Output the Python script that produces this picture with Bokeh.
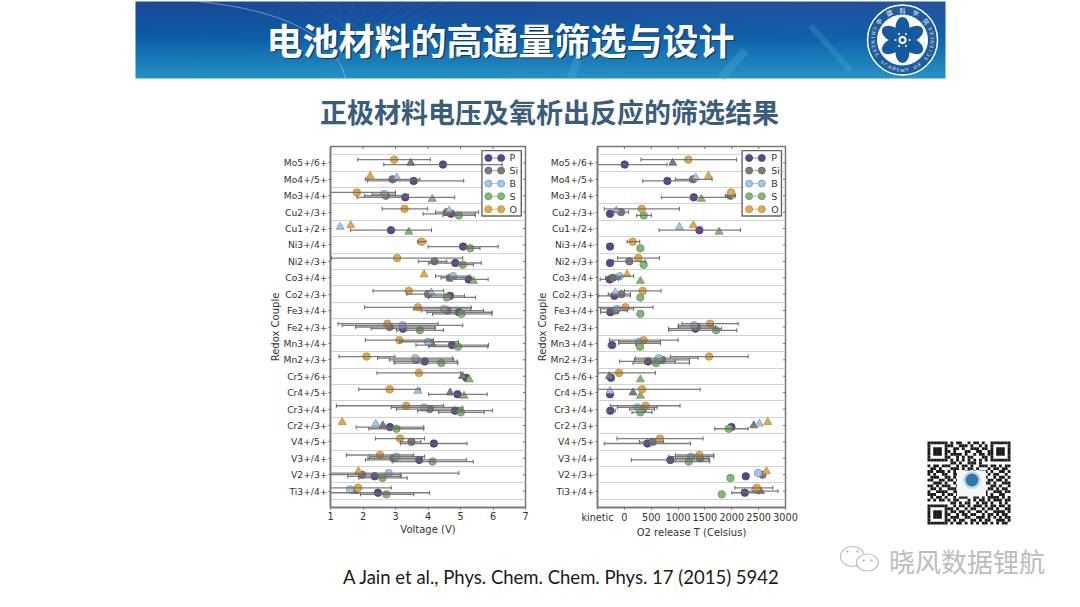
import numpy as np
from bokeh.plotting import figure
from bokeh.layouts import column, row
from bokeh.models import (ColumnDataSource, FixedTicker, Range1d, Spacer, TeeHead, Whisker)
from bokeh.core.properties import value
from bokeh.embed import file_html
from bokeh.resources import INLINE

couples = ["Mo5+/6+", "Mo4+/5+", "Mo3+/4+", "Cu2+/3+", "Cu1+/2+", "Ni3+/4+", "Ni2+/3+", "Co3+/4+", "Co2+/3+", "Fe3+/4+", "Fe2+/3+",
           "Mn3+/4+", "Mn2+/3+", "Cr5+/6+", "Cr4+/5+", "Cr3+/4+", "Cr2+/3+", "V4+/5+", "V3+/4+", "V2+/3+", "Ti3+/4+"]
N = None
series_names = ["P", "Si", "B", "S", "O"]

# ---- Voltage panel -----
v_P    = [4.46, 3.56, 3.30, 4.71, 2.86, 5.08, 4.84, 5.25, 4.68, 4.95, 3.23, 4.74, 3.90, 5.18, 4.91, 4.83, 2.83, 4.18, 3.73, 2.36, 2.46]
v_P_lo = [2.64, 2.13, 1.82, 3.85, 1.62, 4.00, 4.02, 4.58, 4.02, 3.97, 2.25, 3.63, 2.95, N, 4.02, 3.68, 1.79, 3.15, 2.07, 1.53, 1.00]
v_P_hi = [6.28, 5.10, 4.82, 5.45, 4.11, 6.16, 5.64, 5.85, 5.12, 5.97, 4.22, 5.86, 4.90, N, 5.82, 5.98, 3.87, 5.20, 5.18, 3.18, 4.05]
v_Si    = [3.47, 2.91, 2.70, 4.58, N, N, 4.20, 4.68, 4.00, 4.60, 2.82, 4.12, 3.63, 5.06, 4.68, 4.05, 2.61, 3.49, 2.94, 1.97, 1.74]
v_Si_lo = [N, 2.07, 2.04, 4.23, N, N, 3.70, 4.40, 3.35, 3.79, 1.77, N, 2.81, N, N, 3.03, N, 3.15, 2.15, 1.00, N]
v_Si_hi = [N, 3.75, 3.40, 5.56, N, N, 4.58, 5.20, 4.69, 5.71, 4.22, N, 4.79, N, N, 5.07, N, 3.78, 3.75, 3.15, N]
v_B    = [N, 3.04, 2.65, 4.65, 1.30, N, N, 4.77, 4.10, 4.49, 3.22, 4.00, 3.61, N, 3.69, 3.88, 2.39, N, 3.03, 2.79, 1.60]
v_B_lo = [N, N, 2.28, N, N, N, N, 4.23, N, 3.56, 1.36, 3.13, 2.45, N, N, 2.87, N, N, 2.20, 1.00, N]
v_B_hi = [N, N, 3.00, N, N, N, N, 5.30, N, 5.32, 5.07, 4.94, 4.76, N, N, 5.07, N, N, 3.89, 4.95, N]
v_S    = [N, N, 4.13, 4.95, 3.41, 5.30, 5.07, 5.40, 4.58, 5.03, 3.75, 4.92, 4.41, 5.27, 5.11, 5.01, 3.03, N, 4.14, 2.60, 2.72]
v_S_lo = [N, N, N, 4.46, N, 5.10, 4.90, N, 4.02, 4.14, 3.03, 4.02, 2.98, N, N, 4.33, 2.18, N, 2.90, 1.87, 1.92]
v_S_hi = [N, N, N, 5.46, N, 5.60, 5.40, N, 5.46, 5.97, 4.48, 5.84, 4.92, N, N, 5.73, 3.87, N, 5.39, 3.36, 3.56]
v_O    = [2.96, 2.22, 1.81, 3.28, 1.62, 3.80, 3.05, 3.88, 3.41, 3.69, 2.75, 3.12, 2.11, 3.72, 2.82, 3.33, 1.36, 3.14, 2.52, 1.86, 1.85]
v_O_lo = [1.84, N, 1.00, 2.59, N, 3.68, 1.03, N, 2.31, 2.05, 1.23, 2.07, 1.26, 2.43, 1.87, 1.18, N, 2.38, 1.49, N, 1.00]
v_O_hi = [4.07, N, 3.00, 3.99, N, 3.94, 5.07, N, 4.48, 5.33, 4.31, 4.17, 2.98, 5.01, 3.76, 4.48, N, 3.89, 3.56, N, 2.87]

# ---- O2 release panel -----
t_P    = [6, 801, 1292, -267, 1397, -267, -267, -273, -186, -261, 1323, -230, 441, -250, -267, -261, 1993, 428, 857, 2260, 2242]
t_P_lo = [-500, 342, 689, N, 646, N, N, -450, -478, -441, 826, -300, -87, N, N, -320, N, -373, 130, N, 2000]
t_P_hi = [795, 1279, 1975, N, 2161, N, N, -110, 112, -110, 1807, -160, 950, N, N, -170, N, 1230, 1584, N, 2500]
t_Si    = [900, 1279, 1975, -62, N, N, 93, -211, -56, -165, 1350, 270, 702, -279, 161, 350, 2409, 528, 1410, 2571, 2534]
t_Si_lo = [N, 950, 1880, -200, N, N, -200, -350, -300, -300, 1000, -100, 186, N, N, 100, N, 280, 950, N, 2190]
t_Si_hi = [N, 1633, 2070, 80, N, N, 390, -70, 112, 60, 1700, 671, 1210, N, N, 560, N, 730, 1570, N, 2860]
t_B    = [N, 1329, 1990, -149, 1025, N, N, -87, -168, -137, 1298, 279, 640, N, -267, 242, 2515, N, 1242, 2490, 2441]
t_B_lo = [N, N, N, N, N, N, N, -260, N, -441, 1010, -105, 205, N, N, -130, N, N, 826, N, N]
t_B_hi = [N, N, N, N, N, N, N, 174, N, 174, 1650, 671, 1373, N, N, 610, N, N, 1664, N, N]
t_S    = [N, N, 1435, 360, 1764, 298, 360, 298, 298, 298, 1708, 292, 590, 298, 298, 298, 1944, N, 1199, 1975, 1813]
t_S_lo = [N, N, N, 230, N, N, N, N, N, N, 826, N, 160, N, N, 142, 1683, N, 826, N, N]
t_S_hi = [N, N, N, 503, N, N, N, N, N, N, 2093, N, 1210, N, N, 516, 2304, N, 1590, N, N]
t_O    = [1192, 1565, 1987, 323, 1285, 155, 261, 50, 342, 19, 1596, 360, 1577, -99, 329, 397, 2670, 664, 1397, 2646, 2466]
t_O_lo = [310, N, N, -373, N, 50, -124, N, 0, -497, 1074, -279, 857, -500, -500, -261, N, -137, 950, N, 2056]
t_O_hi = [2087, N, N, 1025, N, 286, 652, N, 683, 534, 2118, 1000, 2304, 578, 1410, 1037, N, 1466, 1664, N, 2764]

# couples drawn as triangles, per panel (no spread reported)
v_tri = {"P": [], "Si": ["Mo5+/6+", "Mn3+/4+", "Cr5+/6+", "Cr4+/5+", "Cr2+/3+", "Ti3+/4+"],
         "B": ["Mo4+/5+", "Cu2+/3+", "Cu1+/2+", "Co2+/3+", "Cr4+/5+", "Cr2+/3+"],
         "S": ["Mo3+/4+", "Cu1+/2+", "Co3+/4+", "Cr5+/6+", "Cr4+/5+"],
         "O": ["Mo4+/5+", "Cu1+/2+", "Co3+/4+", "Cr2+/3+", "V2+/3+"]}
t_tri = {"P": [], "Si": ["Mo5+/6+", "Cr5+/6+", "Cr4+/5+", "Cr2+/3+", "Ti3+/4+"],
         "B": ["Mo4+/5+", "Cu2+/3+", "Cu1+/2+", "Co2+/3+", "Cr4+/5+", "Cr2+/3+"],
         "S": ["Mo3+/4+", "Cu1+/2+", "Co3+/4+", "Cr5+/6+", "Cr4+/5+"],
         "O": ["Mo4+/5+", "Cu1+/2+", "Co3+/4+", "Cr2+/3+", "V2+/3+"]}

v_data = {"P": (v_P, v_P_lo, v_P_hi), "Si": (v_Si, v_Si_lo, v_Si_hi), "B": (v_B, v_B_lo, v_B_hi), "S": (v_S, v_S_lo, v_S_hi), "O": (v_O, v_O_lo, v_O_hi)}
t_data = {"P": (t_P, t_P_lo, t_P_hi), "Si": (t_Si, t_Si_lo, t_Si_hi), "B": (t_B, t_B_lo, t_B_hi), "S": (t_S, t_S_lo, t_S_hi), "O": (t_O, t_O_lo, t_O_hi)}

face = {"P": "#5b4590", "Si": "#7c7c7c", "B": "#a3c8e4", "S": "#82b874", "O": "#e3a94f"}
edge = {"P": "#45356e", "Si": "#5e5e5e", "B": "#6d93b3", "S": "#5f8f55", "O": "#b58233"}
offset = {"O": 0.2, "B": 0.1, "Si": 0.0, "P": -0.1, "S": -0.2}
F = "DejaVu Sans"
TXT = "#333333"
n = len(couples)


def panel(data, tri, xr, xticks, xover, xlabel, width, left, border_right, leg):
    p = figure(width=width, height=405, x_range=Range1d(*xr), y_range=Range1d(-1, n), output_backend="svg", toolbar_location=None,
               min_border_left=left, min_border_right=border_right, min_border_top=11, min_border_bottom=30, x_axis_label=xlabel, y_axis_label="Redox Couple")
    p.background_fill_color = "white"
    p.border_fill_color = None
    p.outline_line_color = "#777777"
    p.outline_line_width = 1.5
    p.xgrid.visible = False
    p.ygrid.ticker = FixedTicker(ticks=[i - 0.5 for i in range(n + 1)])
    p.ygrid.grid_line_color = "#d2d2d2"
    p.ygrid.grid_line_width = 1
    yov = {n - 1 - i: c for i, c in enumerate(couples)}
    for ax, tk, ov in ((p.xaxis[0], xticks, xover), (p.yaxis[0], list(range(n)), yov)):
        ax.ticker = FixedTicker(ticks=tk)
        ax.major_label_overrides = ov
        ax.minor_tick_line_color = None
        ax.major_tick_in = 0
        ax.major_tick_out = 2
        ax.major_tick_line_color = "#666666"
        ax.axis_line_color = "#777777"
        ax.axis_line_width = 1.5
        ax.major_label_text_font = F
        ax.major_label_text_color = TXT
        ax.axis_label_text_font = F
        ax.axis_label_text_font_style = "normal"
        ax.axis_label_text_font_size = "10px"
        ax.axis_label_text_color = TXT
    p.xaxis[0].major_label_text_font_size = "9.7px"
    p.xaxis[0].major_label_standoff = 2
    p.xaxis[0].axis_label_standoff = 1
    p.yaxis[0].major_label_text_font_size = "9.2px"
    p.yaxis[0].major_label_standoff = 1
    p.yaxis[0].axis_label_standoff = 0
    # inward ticks on the top and right edges (half of each dash is clipped by the frame)
    p.scatter([xr[1]] * n, list(range(n)), marker="dash", size=5, line_color="#777777", line_width=1)
    p.scatter(xticks, [n] * len(xticks), marker="dash", angle=np.pi / 2, size=5, line_color="#777777", line_width=1)

    for s in series_names:
        val, lo, hi = data[s]
        ys = [n - 1 - i + offset[s] for i in range(n)]
        rows = [(a, b, y) for a, b, y in zip(lo, hi, ys) if a is not None]
        src = ColumnDataSource(dict(lo=[r[0] for r in rows], hi=[r[1] for r in rows], y=[r[2] for r in rows]))
        wh = Whisker(base="y", lower="lo", upper="hi", dimension="width", source=src, line_color="#666666", line_width=1.3, line_alpha=0.85,
                     upper_head=TeeHead(size=4, line_color="#666666", line_width=1), lower_head=TeeHead(size=4, line_color="#666666", line_width=1))
        wh.level = "glyph"
        p.add_layout(wh)
    for s in series_names:
        val = data[s][0]
        ys = [n - 1 - i + offset[s] for i in range(n)]
        cx = [v for v, c in zip(val, couples) if v is not None and c not in tri[s]]
        cy = [y for v, c, y in zip(val, couples, ys) if v is not None and c not in tri[s]]
        tx = [v for v, c in zip(val, couples) if v is not None and c in tri[s]]
        ty = [y for v, c, y in zip(val, couples, ys) if v is not None and c in tri[s]]
        p.scatter(cx, cy, marker="circle", size=7.5, fill_color=face[s], line_color=edge[s], line_width=0.7)
        p.scatter(tx, ty, marker="triangle", size=8, fill_color=face[s], line_color=edge[s], line_width=0.7)
    # legend (two markers on a line per entry)
    p.quad(left=[leg["box"][0]], right=[leg["box"][1]], bottom=[16.76], top=[20.75], fill_color="white", line_color="#666666", line_width=1.4)
    for s, y in zip(series_names, [20.3, 19.53, 18.74, 17.97, 17.18]):
        p.line(leg["line"], [y, y], line_color=edge[s], line_width=1, line_alpha=0.55)
        p.scatter(leg["marks"], [y, y], marker="circle", size=7, fill_color=face[s], line_color=edge[s], line_width=0.7)
        p.text([leg["text"]], [y], text=[s], text_font=value(F), text_font_size="9.5px", text_color=TXT, text_baseline="middle", text_align="left")
    return p


left = panel(v_data, v_tri, (1, 7), [1, 2, 3, 4, 5, 6, 7], {}, "Voltage (V)", 275, 72, 8,
             dict(box=(5.66, 6.87), line=(5.73, 6.38), marks=(5.86, 6.25), text=6.51))
right = panel(t_data, t_tri, (-500, 3000), [-500, 0, 500, 1000, 1500, 2000, 2500, 3000], {-500: "kinetic"}, "O2 release T (Celsius)", 266, 64, 14,
              dict(box=(2192, 2925), line=(2254, 2627), marks=(2323, 2559), text=2733))


def deco(x0, x1, y0, y1):
    d = figure(width=x1 - x0, height=y1 - y0, x_range=Range1d(x0, x1), y_range=Range1d(y1, y0), output_backend="svg", toolbar_location=None,
               min_border=0, x_axis_type=None, y_axis_type=None, outline_line_color=None)
    d.grid.visible = False
    d.border_fill_color = None
    d.background_fill_color = None
    d.frame_align = False
    return d


# header band
head = deco(0, 1080, 0, 135)
gx, gy = np.meshgrid(np.linspace(0, 1, 160), np.linspace(0, 1, 40))
stops_y = [0, 0.45, 1]
stops = [[27, 72, 150], [12, 92, 165], [36, 146, 196]]
img = np.zeros((40, 160, 4), dtype=np.uint8)
for ch in range(3):
    img[:, :, ch] = np.clip(np.interp(gy, stops_y, [s[ch] for s in stops]) + 10 * gx * (1 - gy), 0, 255)
img[:, :, 3] = 255
rgba = img.view(np.uint32).reshape(40, 160)
head.image_rgba(image=[rgba], x=[135], y=[1], dw=[810], dh=[77])
for k in range(9):
    head.line([300 + 18 * k, 350 - 3 * k], [1, 25 + 5 * k], line_color="white", line_width=0.6, line_alpha=0.12)
head.quadratic(x0=[198], y0=[1], x1=[345], y1=[78], cx=[330], cy=[15], line_color="#cfe6f5", line_width=1, line_alpha=0.45)
head.line([720, 745], [78, 50], line_color="#4fb0d4", line_width=8, line_alpha=0.3)
head.line([570, 580], [78, 52], line_color="#4fb0d4", line_width=8, line_alpha=0.3)
head.line([810, 850], [25, 70], line_color="#4fb0d4", line_width=6, line_alpha=0.25)
cjk = value("Noto Sans CJK SC")
title = "电池材料的高通量筛选与设计"
head.text([501.5], [39.5], text=[title], text_font=cjk, text_font_style="bold", text_font_size="36px", text_color="#123a66", text_align="center", text_baseline="middle")
head.text([500], [38], text=[title], text_font=cjk, text_font_style="bold", text_font_size="36px", text_color="white", text_align="center", text_baseline="middle")
head.text([549], [111], text=["正极材料电压及氧析出反应的筛选结果"], text_font=cjk, text_font_style="bold", text_font_size="27px", text_color="#3c5c7c", text_align="center", text_baseline="middle")
# CAS emblem
lx, ly = 902, 39.5
head.circle([lx], [ly], radius=35, fill_color="#1d5c9c", line_color="white", line_width=1.5)
head.circle([lx], [ly], radius=25, fill_color="white", line_color="white", line_width=1)
theta = np.linspace(0, 2 * np.pi, 40)
px, py = [], []
for deg in range(-90, 270, 60):
    a = np.deg2rad(deg)
    u, v = 12 + 11 * np.cos(theta), 7 * np.sin(theta)
    px.append(lx + u * np.cos(a) - v * np.sin(a))
    py.append(ly + u * np.sin(a) + v * np.cos(a))
head.patches(px, py, fill_color="#155a9e", line_color=None)
head.circle([lx], [ly], radius=8, fill_color="#155a9e", line_color=None)
head.circle([lx], [ly], radius=4, fill_color="white", line_color=None)
head.circle([lx], [ly], radius=2, fill_color="#155a9e", line_color=None)
dots = np.deg2rad(np.arange(0, 360, 60) - 60)
head.circle(lx + 7 * np.cos(dots), ly + 7 * np.sin(dots), radius=1, fill_color="white", line_color=None)
ring_top = "中国科学院"
ring_bot = "CHINESE ACADEMY OF SCIENCES"
for i, ch in enumerate(ring_top):
    a = np.deg2rad(-90 + (i - 2) * 26)
    head.text([lx + 30 * np.cos(a)], [ly + 30 * np.sin(a)], text=[ch], angle=[-(a + np.pi / 2)], text_font=cjk, text_font_size="6px", text_color="white", text_align="center", text_baseline="middle")
for i, ch in enumerate(ring_bot):
    a = np.deg2rad(90 - (i - 13) * 8.6)
    head.text([lx + 30 * np.cos(a)], [ly + 30 * np.sin(a)], text=[ch], angle=[-(a - np.pi / 2)], text_font=value("Liberation Serif"), text_font_size="5px", text_color="white", text_align="center", text_baseline="middle")

# QR panel
qr_rows = [
    "11111110101100101101001111111",
    "10000011100111010010101000001",
    "10111010011010011101101011101",
    "10111011010001100110011011101",
    "10111010111101001011011011101",
    "10000011001010110001101000001",
    "11111110101010101010101111111",
    "00000000110100111010000000000",
    "10110111001011010011101101011",
    "01101000111010110100010110110",
    "11011101010001101011101001101",
    "10100110011010010011010110010",
    "01110011010110101101100101101",
    "11001101101001010110011011010",
    "00111010010110100101110100111",
    "11010111001011011010001101001",
    "01101001110100100111011010110",
    "10011110011011001010100111011",
    "11100101101000110101101001100",
    "01011010010111001101011110101",
    "10101101011000101011010111011",
    "00000000110101100101101001010",
    "11111110010110101110101101101",
    "10000011101001011001011010011",
    "10111010110110100110100111101",
    "10111011001011011001011010110",
    "10111010111001100111010101011",
    "10000011010110011010110011101",
    "11111110101101010101101010110",
]
qrf = deco(799, 1080, 135, 540)
qx0, qy0, qs = 927.0, 441.0, 83.0 / 29
xs = [qx0 + (c + .5) * qs for r, rw in enumerate(qr_rows) for c, v in enumerate(rw) if v == "1"]
ys = [qy0 + (r + .5) * qs for r, rw in enumerate(qr_rows) for c, v in enumerate(rw) if v == "1"]
qrf.rect(xs, ys, width=qs, height=qs, fill_color="#1a1a1a", line_color=None)
qrf.rect([971], [483], width=29, height=26, fill_color="#f4f7f8", line_color=None)
qrf.circle([971.5], [479.5], radius=9, fill_color="#c4dcea", line_color=None)
qrf.circle([971.5], [479.5], radius=6.5, fill_color="#2f78a8", line_color=None)

# footer
foot = deco(0, 1080, 540, 607)
foot.text([561], [576], text=["A Jain et al., Phys. Chem. Chem. Phys. 17 (2015) 5942"], text_font=value("Lato"), text_font_size="18.5px", text_color="#1a1a1a", text_align="center", text_baseline="middle")
foot.text([966.5], [559.5], text=["晓风数据锂航"], text_font=cjk, text_font_size="26px", text_color="#bcbcbc", text_align="center", text_baseline="middle")
foot.ellipse([852, 867], [556, 562], width=[24, 22], height=[20, 17], fill_color="white", line_color="#c0c0c0", line_width=1.2)
foot.scatter([847, 857, 863, 871], [551, 551, 560, 560], size=2.5, marker="circle", fill_color="#c0c0c0", line_color=None)

page = column(head, row(Spacer(width=258, height=405), left, right, qrf), foot, spacing=0)
open("out.html", "w").write(file_html(page, INLINE))
